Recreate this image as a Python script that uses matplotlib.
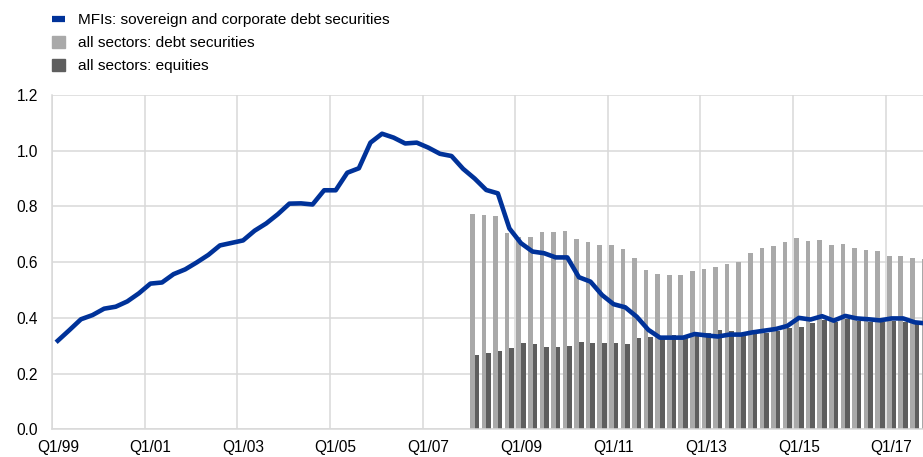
import matplotlib
matplotlib.use("Agg")
import matplotlib.pyplot as plt
from matplotlib.lines import Line2D
from matplotlib.patches import Patch
import numpy as np

plt.rcParams['font.family'] = ['Liberation Sans', 'DejaVu Sans']

# quarterly, Q1/99 .. Q4/17
quarters = [f"Q{q}/{y % 100:02d}" for y in range(1999, 2018) for q in range(1, 5)]

mfi_debt = [0.318, 0.356, 0.395, 0.410, 0.433, 0.440, 0.459, 0.488,
            0.523, 0.527, 0.557, 0.574, 0.599, 0.626, 0.660, 0.669,
            0.678, 0.713, 0.739, 0.772, 0.810, 0.811, 0.807, 0.858,
            0.858, 0.921, 0.937, 1.029, 1.061, 1.047, 1.026, 1.029,
            1.011, 0.989, 0.981, 0.935, 0.900, 0.859, 0.847, 0.721,
            0.668, 0.638, 0.632, 0.617, 0.617, 0.546, 0.530, 0.482,
            0.449, 0.438, 0.404, 0.357, 0.329, 0.329, 0.329, 0.342,
            0.337, 0.333, 0.340, 0.340, 0.348, 0.354, 0.360, 0.371,
            0.400, 0.394, 0.406, 0.390, 0.407, 0.398, 0.395, 0.391,
            0.398, 0.398, 0.384, 0.380]

# all sectors, from Q1/08
all_debt = [0.772, 0.769, 0.765, 0.706, 0.690, 0.690, 0.708, 0.708,
            0.712, 0.682, 0.672, 0.662, 0.662, 0.647, 0.615, 0.572,
            0.558, 0.553, 0.553, 0.568, 0.577, 0.584, 0.595, 0.600,
            0.633, 0.651, 0.658, 0.671, 0.687, 0.677, 0.678, 0.662,
            0.664, 0.652, 0.645, 0.640, 0.622, 0.622, 0.614, 0.611]
all_equity = [0.266, 0.274, 0.281, 0.292, 0.310, 0.306, 0.297, 0.297,
              0.299, 0.313, 0.310, 0.311, 0.309, 0.307, 0.327, 0.333,
              0.330, 0.338, 0.327, 0.340, 0.345, 0.355, 0.352, 0.347,
              0.342, 0.347, 0.353, 0.363, 0.368, 0.380, 0.392, 0.386,
              0.395, 0.390, 0.386, 0.386, 0.390, 0.386, 0.380, 0.380]

blue = '#003299'
light = '#a9a9a9'
dark = '#5e5e5e'
grid = '#d9d9d9'

fig = plt.figure(figsize=(9.23, 4.57), dpi=100)
ax = fig.add_axes([52/923, 1 - 429.3/457, 1 - 52/923, (429.3 - 95)/457])

x = np.arange(len(quarters))
start = quarters.index("Q1/08")
xb = x[start:start + len(all_debt)]

ax.bar(xb - 0.4, all_debt, width=0.4, align='edge', color=light, zorder=2)
ax.bar(xb, all_equity, width=0.4, align='edge', color=dark, zorder=2)
ax.plot(x, mfi_debt, color=blue, lw=3.3, zorder=3, solid_joinstyle='round')

ax.set_ylim(0, 1.2)
ax.set_yticks(np.arange(0, 1.21, 0.2))
ax.set_yticklabels([f"{v:.1f}" for v in np.arange(0, 1.21, 0.2)])
ax.set_xlim(-0.5, (923 - 52)/11.58 - 0.5)
ax.set_xticks(x[::8])
ax.set_xticklabels(quarters[::8])
ax.set_xticks(x[::8] - 0.5, minor=True)
ax.tick_params(which='both', length=0, labelsize=11.2, colors='black')
ax.tick_params(axis='y', pad=10)
ax.tick_params(axis='x', pad=8)
ax.grid(axis='y', color=grid, lw=1.1, zorder=0)
ax.grid(axis='x', which='minor', color=grid, lw=1.1, zorder=0)
for s in ['top', 'right']:
    ax.spines[s].set_visible(False)
for s in ['left', 'bottom']:
    ax.spines[s].set_color(grid)
    ax.spines[s].set_linewidth(1.1)

handles = [Line2D([], [], color=blue, lw=4.5, solid_capstyle='butt'),
           Patch(color=light), Patch(color=dark)]
labels = ['MFIs: sovereign and corporate debt securities',
          'all sectors: debt securities',
          'all sectors: equities']
fig.legend(handles, labels, loc='upper left', bbox_to_anchor=(52/923, 1 - 13/457),
           frameon=False, fontsize=11.1, borderpad=0, borderaxespad=0,
           handlelength=0.85, handleheight=0.8, handletextpad=0.85, labelspacing=0.56)

fig.savefig('out.png', dpi=100)
